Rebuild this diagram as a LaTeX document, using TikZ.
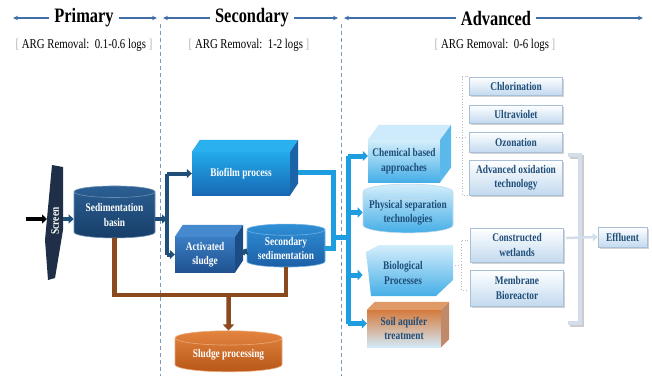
\documentclass[tikz,border=0pt]{standalone}
\usepackage{fontspec}
\setmainfont{Liberation Serif}
\newfontfamily\tallserif[FakeStretch=0.8]{Liberation Serif}
\usepackage{tikz}
\usetikzlibrary{arrows.meta,shapes.geometric,shadows}

\definecolor{navy}{HTML}{1F4E79}
\definecolor{hdrblue}{HTML}{3F6FA6}
\definecolor{pipeblue}{HTML}{1E9EE0}
\definecolor{rust}{HTML}{8B4A1E}
\definecolor{paleline}{HTML}{D3DEEA}
\definecolor{subedge}{HTML}{A9BFD6}
\definecolor{subfill}{HTML}{C3DAEF}
% fills
\definecolor{screenink}{HTML}{1F2F47}
\definecolor{basintop}{HTML}{2B5F93}
\definecolor{basinbot}{HTML}{173E68}
\definecolor{biotop}{HTML}{23AAEA}
\definecolor{biobot}{HTML}{1769B5}
\definecolor{bioroof}{HTML}{2AB0EE}
\definecolor{bioside}{HTML}{1A63A8}
\definecolor{acttop}{HTML}{3A7DC4}
\definecolor{actbot}{HTML}{1F528F}
\definecolor{actroof}{HTML}{4589CF}
\definecolor{actside}{HTML}{1B4C85}
\definecolor{settop}{HTML}{2F8FD6}
\definecolor{setbot}{HTML}{1C5FA6}
\definecolor{sludtop}{HTML}{E3843F}
\definecolor{sludbot}{HTML}{B85718}
\definecolor{paletop}{HTML}{D4EEFB}
\definecolor{palebot}{HTML}{45AEE7}
\definecolor{paleroof}{HTML}{CDEBFA}
\definecolor{paleside}{HTML}{5AB8EA}
\definecolor{soiltop}{HTML}{D57A3D}
\definecolor{soilbot}{HTML}{D3E9F7}
\definecolor{soilroof}{HTML}{E09A68}
\definecolor{soilside}{HTML}{C08A6A}

% top and side faces of a block, hung on the front-face node
% #1 node, #2 dx, #3 dy, #4 roof colour, #5 side colour
\newcommand{\blockfaces}[5]{%
  \fill[#4] (#1.north west) -- ++(#2,-#3) -- ([shift={(#2,-#3)}]#1.north east)
    -- (#1.north east) -- cycle;
  \fill[#5] (#1.north east) -- ([shift={(#2,-#3)}]#1.north east)
    -- ([shift={(#2,-#3)}]#1.south east) -- (#1.south east) -- cycle;
}
\newcommand{\bkt}[1]{\textcolor{gray!60}{#1}}

\tikzset{
  divider/.style={hdrblue!70, line width=0.8pt, dash pattern=on 4pt off 3pt},
  title/.style={font=\tallserif\fontsize{20.5}{24}\selectfont\bfseries, inner sep=5pt},
  hdrarrow/.style={hdrblue, line width=1.1pt, -{Stealth[length=5pt,width=4.5pt]}},
  removal/.style={font=\tallserif\fontsize{13.5}{15}\selectfont},
  lbl/.style={font=\tallserif\fontsize{11.7}{14.5}\selectfont\bfseries, align=center, inner sep=0pt},
  darklbl/.style={lbl, text=white},
  lightlbl/.style={lbl, text=navy},
  tank/.style={cylinder, shape border rotate=90, aspect=0.2, line width=0.6pt},
  subbox/.style={lightlbl, rectangle, draw=subedge, line width=0.5pt,
    top color=white, bottom color=subfill, minimum width=93pt,
    drop shadow={shadow xshift=1.5pt, shadow yshift=-1.5pt, opacity=0.35}},
  darkpipe/.style={navy, line width=4pt},
  darkarrow/.style={darkpipe, -{Triangle[length=5pt,width=9pt]}},
  bluepipe/.style={pipeblue, line width=5pt},
  bluearrow/.style={bluepipe, -{Triangle[length=5pt,width=10pt]}},
  sludgepipe/.style={rust, line width=4.5pt},
  sludgearrow/.style={sludgepipe, -{Triangle[length=6pt,width=11pt]}},
  dotlink/.style={gray!55, line width=0.8pt, dotted},
  palepipe/.style={paleline, line width=4pt},
}

\begin{document}
\begin{tikzpicture}[x=1pt,y=-1pt]
\useasboundingbox (0,0) rectangle (652,376);

% stage dividers
\foreach \xd in {160,341}
  \draw[divider] (\xd,24) -- (\xd,376);

% stage headings
\node[title] (prim) at (84,18) {Primary};
\node[title] (sec) at (252,18) {Secondary};
\node[title] (adv) at (496,18) {Advanced};
\coordinate (pl) at (13,18);
\coordinate (pr) at (157,18);
\coordinate (sl) at (163,18);
\coordinate (sr) at (338,18);
\coordinate (al) at (344,18);
\coordinate (ar) at (643,18);
\draw[hdrarrow] (prim) -- (pl);
\draw[hdrarrow] (prim) -- (pr);
\draw[hdrarrow] (sec) -- (sl);
\draw[hdrarrow] (sec) -- (sr);
\draw[hdrarrow] (adv) -- (al);
\draw[hdrarrow] (adv) -- (ar);

\node[removal] (rprim) at (84,45) {\bkt{[}\ ARG Removal:\ \ 0.1-0.6 logs\ \bkt{]}};
\node[removal] (rsec) at (249,45) {\bkt{[}\ ARG Removal:\ \ 1-2 logs\ \bkt{]}};
\node[removal] (radv) at (495,45) {\bkt{[}\ ARG Removal:\ \ 0-6 logs\ \bkt{]}};

% primary
\fill[screenink] (52,165) -- (63,167) -- (63,230) -- (55,278) -- (48,280) -- (45,240) -- cycle;
\node[darklbl, rotate=90] (screen) at (55,221) {Screen};
\coordinate (feed) at (26,219);
\coordinate (scrin) at (47,219);
\coordinate (scrout) at (63,219);
\node[tank, darklbl, minimum width=81pt, minimum height=52pt, draw=basintop!70!white,
  top color=basintop, bottom color=basinbot] (basin) at (114.5,215) {Sedimentation\\basin};
\draw[black, line width=4pt, -{Triangle[length=5pt,width=9pt]}] (feed) -- (scrin);
\draw[darkarrow] (scrout) -- (scrout -| basin.west);

% secondary
\node[darklbl, minimum width=98pt, minimum height=43pt,
  top color=biotop, bottom color=biobot] (bio) at (241,173.5) {Biofilm process};
\blockfaces{bio}{8}{12}{bioroof}{bioside}
\node[darklbl, minimum width=60pt, minimum height=35pt,
  top color=acttop, bottom color=actbot] (act) at (205,254.5) {Activated\\sludge};
\blockfaces{act}{8}{12}{actroof}{actside}
\node[tank, darklbl, minimum width=78pt, minimum height=43pt, draw=settop!70!white,
  top color=settop, bottom color=setbot] (secsed) at (286,248.5) {Secondary\\sedimentation};
\node[tank, darklbl, minimum width=107pt, minimum height=41pt, draw=sludtop!70!white,
  top color=sludtop, bottom color=sludbot] (sludge) at (228.5,355) {Sludge processing};

\coordinate (split) at (167,219);
\draw[darkpipe] (split |- bio.west) -- (split |- act.west);
\draw[darkarrow] (basin.east |- split) -- (split);
\draw[darkarrow] (split |- bio.west) -- (bio.west);
\draw[darkarrow] (split |- act.west) -- (act.west);
\draw[darkarrow, line width=3pt] ([xshift=8pt]act.east) -- (secsed.west);

\coordinate (sj) at (228.5,295);
\draw[sludgepipe] (basin.south) -- (basin.south |- sj) -| (secsed.south);
\draw[sludgearrow] (sj) -- (sludge.north);

\coordinate (tee) at (333,237);
\coordinate (bus) at (348,237);
\draw[bluepipe] ([shift={(8,-1.5)}]bio.east) -| (tee) |- (secsed.east);
\draw[bluepipe] (tee) -- (bus);

% advanced
\node[lightlbl, minimum width=72pt, minimum height=42pt,
  top color=paletop, bottom color=palebot] (chem) at (404,161) {Chemical based\\approaches};
\blockfaces{chem}{11}{15}{paleroof}{paleside}
\node[tank, lightlbl, minimum width=90pt, minimum height=47pt, draw=paletop!60!subedge,
  top color=paletop, bottom color=palebot] (phys) at (408,212.5) {Physical separation\\technologies};
\shade[top color=paletop, bottom color=palebot]
  (366,252) -- (379,245) -- (453,245) -- (453,280) -- (436,296) -- (371,296) -- cycle;
\node[lightlbl] (biol) at (403,273) {Biological\\Processes};
\node[lightlbl, minimum width=74pt, minimum height=37pt,
  top color=soiltop, bottom color=soilbot] (soil) at (404,328.5) {Soil aquifer\\treatment};
\blockfaces{soil}{8}{8}{soilroof}{soilside}

\draw[bluepipe] ([yshift=5pt]bus |- chem.west) -- ([yshift=5pt]bus |- soil.west);
\draw[bluearrow] ([yshift=5pt]bus |- chem.west) -- ([yshift=5pt]chem.west);
\draw[bluearrow] (bus |- phys.west) -- (phys.west);
\draw[bluearrow] ([yshift=-2pt]bus |- biol.west) -- ([yshift=-2pt]biol.west -| phys.west);
\draw[bluearrow] ([yshift=5pt]bus |- soil.west) -- ([yshift=5pt]soil.west);

\node[subbox, minimum height=18pt] (chlor) at (516,86) {Chlorination};
\node[subbox, minimum height=18pt] (uv) at (516,114) {Ultraviolet};
\node[subbox, minimum height=20pt] (ozone) at (516,142) {Ozonation};
\node[subbox, minimum height=35pt] (aot) at (516,177.5) {Advanced oxidation\\technology};
\node[subbox, minimum height=34pt] (wet) at (517,245) {Constructed\\wetlands};
\node[subbox, minimum height=36pt] (mbr) at (517,288) {Membrane\\Bioreactor};
\node[subbox, minimum width=49pt, minimum height=20pt] (eff) at (622.5,237) {Effluent};

% dotted brackets
\draw[dotlink] ([xshift=-1pt]chlor.north west) -- ++(-6,0) |- ([xshift=-1pt]aot.south west);
\draw[dotlink] ([shift={(16,-24)}]chem.east) -- ++(9,0);
\draw[dotlink] ([shift={(-2,-5)}]wet.west) -- ++(-7,0) |- ([shift={(-2,2)}]mbr.west);
\coordinate (biolout) at (455,265);
\draw[dotlink] (biolout) -- ++(7,0);

% collecting bracket
\coordinate (brtop) at (568,155);
\coordinate (brbot) at (568,323);
\coordinate (brmid) at (566,238);
\draw[palepipe, gray!40] ([shift={(1.5,1.5)}]brtop) -- ++(12,0) |- ([shift={(1.5,1.5)}]brbot);
\draw[palepipe] (brtop) -- ++(12,0) |- (brbot);
\draw[palepipe, line width=2.5pt, -{Triangle[length=5pt,width=8pt]}] (brmid) -- (eff.west);
\end{tikzpicture}
\end{document}
